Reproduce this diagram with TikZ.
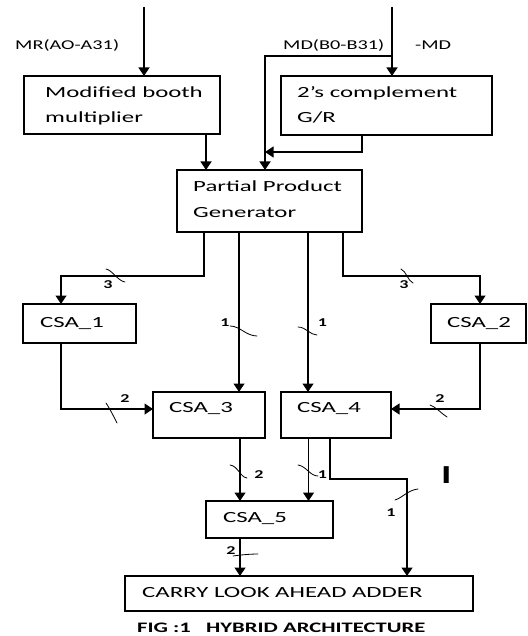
\documentclass[tikz,border=0pt]{standalone}
\usepackage{fontspec}
\setmainfont{Carlito}[FakeStretch=1.5]
\newfontfamily\boxfont{Carlito}[FakeStretch=1.6]
\newfontfamily\capfont{Carlito}[FakeStretch=1.56]
\usetikzlibrary{arrows.meta}
\tikzset{
  box/.style={draw, line width=1.2pt, inner sep=0pt, outer sep=0pt, anchor=north west},
  txt/.style={anchor=base west, inner sep=0pt, font=\boxfont\fontsize{15.5}{18}\selectfont},
  sig/.style={anchor=base west, inner sep=0pt, font=\fontsize{13.5}{16}\selectfont},
  num/.style={inner sep=0pt, font=\fontsize{12}{14}\selectfont\bfseries},
  arr/.style={line width=1.3pt, -{Triangle[length=8.5pt,width=11pt]}},
  tick/.style={line width=0.8pt, line cap=round}
}
\begin{document}
\begin{tikzpicture}[x=1pt,y=-1pt]
\useasboundingbox (0,0) rectangle (527,636);
% boxes
\node[box, minimum width=196pt, minimum height=58pt] (booth) at (24,76) {};
\node[box, minimum width=211pt, minimum height=59pt] (comp) at (281,76) {};
\node[box, minimum width=185pt, minimum height=62pt] (ppg) at (177,170) {};
\node[box, minimum width=113pt, minimum height=39pt] (csa1) at (23,304) {};
\node[box, minimum width=95pt, minimum height=39pt] (csa2) at (431,304) {};
\node[box, minimum width=112pt, minimum height=46pt] (csa3) at (153,392) {};
\node[box, minimum width=110pt, minimum height=46pt] (csa4) at (281,392) {};
\node[box, minimum width=127pt, minimum height=37pt] (csa5) at (206,501) {};
\node[box, minimum width=348pt, minimum height=35pt] (cla) at (125,576) {};
% box texts
\node[txt] (t1) at (45,98) {Modified booth};
\node[txt] (t2) at (45,123) {multiplier};
\node[txt] (t3) at (297,98) {2’s complement};
\node[txt] (t4) at (297,123) {G/R};
\node[txt] (t5) at (193,192) {Partial Product};
\node[txt] (t6) at (193,217) {Generator};
\node[txt] (t7) at (40,327) {CSA\_1};
\node[txt] (t8) at (447,327) {CSA\_2};
\node[txt] (t9) at (169,412) {CSA\_3};
\node[txt] (t10) at (297,412) {CSA\_4};
\node[txt] (t11) at (223,522) {CSA\_5};
\node[txt] (t12) at (142,597) {CARRY LOOK AHEAD ADDER};
% signal labels
\node[sig] (mr) at (15,50) {MR(AO-A31)};
\node[sig] (md) at (283,50) {MD(B0-B31)};
\node[sig] (nmd) at (415,50) {-MD};
\node[anchor=base west, inner sep=0pt, font=\fontsize{26}{30}\selectfont\bfseries] (ii) at (441,483) {I};
\node[anchor=base west, inner sep=0pt, font=\capfont\fontsize{14.5}{17}\selectfont\bfseries] (cap) at (137,632.5) {FIG :1\ \ \ HYBRID ARCHITECTURE};
% bit-width numbers
\node[num] (n1) at (108,284.5) {3};
\node[num] (n2) at (404,284.5) {3};
\node[num] (n3) at (225,322.5) {1};
\node[num] (n4) at (322.5,322.5) {1};
\node[num] (n5) at (125,399) {2};
\node[num] (n6) at (440,399) {2};
\node[num] (n7) at (259,474.5) {2};
\node[num] (n8) at (322.5,474.5) {1};
\node[num] (n9) at (391,512.5) {1};
\node[num] (n10) at (231,551) {2};
% coordinates
\coordinate (mrin) at (144,7);
\coordinate (mdin) at (392,7);
\coordinate (br) at (392,56);
\coordinate (bx) at (265,56);
\coordinate (mg) at (265,152);
\coordinate (cb) at (362,0);
\coordinate (bb) at (206,0);
\coordinate (p1) at (204,0);
\coordinate (k1) at (61,276);
\coordinate (p3) at (239,0);
\coordinate (p4) at (308,0);
\coordinate (p2) at (343,0);
\coordinate (k2) at (480,276);
\coordinate (k3) at (61,409);
\coordinate (k4) at (480,409);
\coordinate (q3) at (240,0);
\coordinate (q4) at (308.5,0);
\coordinate (q5) at (330,0);
\coordinate (k5) at (330,479);
\coordinate (k6) at (407,479);
% connectors
\draw[arr] (mrin) -- (mrin |- booth.north);
\draw[arr] (mdin) -- (mdin |- comp.north);
\draw[arr] (br) -- (bx) -- (bx |- ppg.north);
\draw[arr] (comp.south -| cb) |- (mg);
\draw[arr] (booth.south -| bb) -- (ppg.north -| bb);
\draw[arr] (ppg.south -| p1) |- (k1) -- (csa1.north -| k1);
\draw[arr] (ppg.south -| p3) -- (csa3.north -| p3);
\draw[arr] (ppg.south -| p4) -- (csa4.north -| p4);
\draw[arr] (ppg.south -| p2) |- (k2) -- (csa2.north -| k2);
\draw[arr] (csa1.south -| k3) -- (k3) -- (csa3.west |- k3);
\draw[arr] (csa2.south -| k4) -- (k4) -- (csa4.east |- k4);
\draw[arr] (csa3.south -| q3) -- (csa5.north -| q3);
\draw[arr] (csa4.south -| q4) -- (csa5.north -| q4);
\draw[arr] (csa4.south -| q5) -- (k5) -- (k6) -- (cla.north -| k6);
\draw[arr] (csa5.south -| q3) -- (cla.north -| q3);
% bus marks
\draw[tick] (106,269) .. controls (112,270) and (118,281) .. (125,282);
\draw[tick] (401,269) .. controls (406,271) and (408,281) .. (413,283);
\draw[tick] (230,326) .. controls (240,326) and (246,336) .. (257,336);
\draw[tick] (298,327) .. controls (306,327) and (310,335) .. (317,335);
\draw[tick] (106,403) .. controls (110,409) and (114,417) .. (117,423);
\draw[tick] (430,405) .. controls (436,407) and (442,414) .. (447,417);
\draw[tick] (230,465) .. controls (238,466) and (240,477) .. (247,478);
\draw[tick] (298,465) .. controls (306,466) and (310,476) .. (318,476);
\draw[tick] (395,500) .. controls (402,498) and (408,490) .. (418,489);
\draw[tick] (233,556) .. controls (240,555) and (250,554) .. (258,554);
\end{tikzpicture}
\end{document}
